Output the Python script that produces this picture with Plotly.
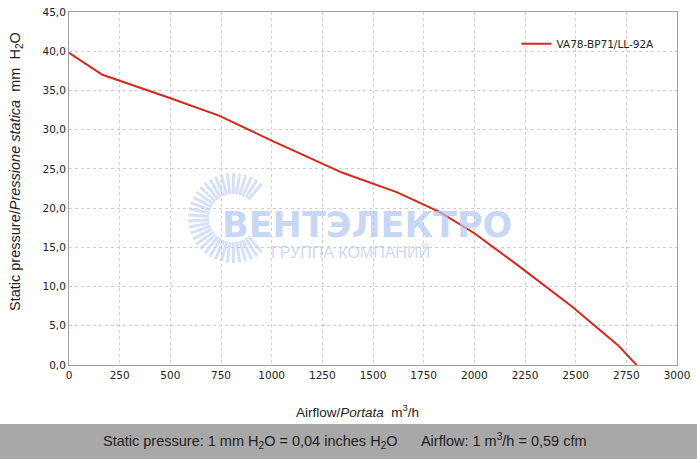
import numpy as np
import plotly.graph_objects as go

# Data
airflow = [0, 165, 480, 740, 1000, 1350, 1620, 1830, 2000, 2220, 2480, 2710, 2800]
pressure = [39.8, 37.0, 34.2, 31.8, 28.6, 24.5, 22.0, 19.5, 16.8, 12.6, 7.5, 2.5, 0.0]
series_name = "VA78-BP71/LL-92A"
x_ticks = [0, 250, 500, 750, 1000, 1250, 1500, 1750, 2000, 2250, 2500, 2750, 3000]
y_ticks = [0, 5, 10, 15, 20, 25, 30, 35, 40, 45]

W, H = 697, 459
L, R, T, B = 69, 20, 12, 94
pw, ph = W - L - R, H - T - B

def px2paper(px, py):
    return (px - L) / pw, (H - B - py) / ph

fig = go.Figure()
fig.add_trace(go.Scatter(x=airflow, y=pressure, mode="lines", name=series_name,
                         line=dict(color="#d8261c", width=2), showlegend=True))

shapes = []
# watermark sunburst rays
cx, cy = 233, 218
for ang in np.linspace(50, 310, 34):
    a = np.deg2rad(ang)
    x0, y0 = px2paper(cx + 24 * np.cos(a), cy - 24 * np.sin(a))
    x1, y1 = px2paper(cx + 45 * np.cos(a), cy - 45 * np.sin(a))
    shapes.append(dict(type="line", xref="paper", yref="paper", x0=x0, y0=y0, x1=x1, y1=y1,
                       line=dict(color="rgba(180,200,240,0.55)", width=3), layer="below"))
# bottom band
bx0, by0 = px2paper(0, 424)
bx1, by1 = px2paper(W, H)
shapes.append(dict(type="rect", xref="paper", yref="paper", x0=bx0, y0=by1, x1=bx1, y1=by0,
                   fillcolor="#a8a8a8", line=dict(width=0), layer="above"))

annotations = []
wx, wy = px2paper(367, 225)
annotations.append(dict(text="<b>ВЕНТЭЛЕКТРО</b>", xref="paper", yref="paper", x=wx, y=wy,
                        xanchor="center", yanchor="middle", showarrow=False,
                        font=dict(family="DejaVu Sans", size=35, color="rgba(175,198,242,0.7)")))
gx, gy = px2paper(350, 252)
annotations.append(dict(text="ГРУППА КОМПАНИЙ", xref="paper", yref="paper", x=gx, y=gy,
                        xanchor="center", yanchor="middle", showarrow=False,
                        font=dict(family="Liberation Sans", size=16, color="rgba(185,205,242,0.75)")))
fx, fy = px2paper(345, 441)
annotations.append(dict(text="Static pressure: 1 mm H<sub>2</sub>O = 0,04 inches H<sub>2</sub>O      Airflow: 1 m<sup>3</sup>/h = 0,59 cfm",
                        xref="paper", yref="paper", x=fx, y=fy, xanchor="center", yanchor="middle",
                        showarrow=False,
                        font=dict(family="Liberation Sans", size=14.5, color="#222")))
tx, ty = px2paper(357, 411)
annotations.append(dict(text="Airflow/<i>Portata</i>  m<sup>3</sup>/h", xref="paper", yref="paper",
                        x=tx, y=ty, xanchor="center", yanchor="middle", showarrow=False,
                        font=dict(family="Liberation Sans", size=13.5, color="#222")))
ax_, ay_ = px2paper(16, 172)
annotations.append(dict(text="Static pressure/<i>Pressione statica</i>  mm  H<sub>2</sub>O", xref="paper", yref="paper",
                        x=ax_, y=ay_, xanchor="center", yanchor="middle", textangle=-90, showarrow=False,
                        font=dict(family="Liberation Sans", size=14.5, color="#222")))

fig.update_layout(
    width=W, height=H,
    margin=dict(l=L, r=R, t=T, b=B, autoexpand=False),
    paper_bgcolor="white", plot_bgcolor="white",
    separators=", ",
    shapes=shapes, annotations=annotations,
    legend=dict(x=0.736, y=0.91, xanchor="left", yanchor="middle", bgcolor="rgba(0,0,0,0)",
                font=dict(family="DejaVu Sans", size=10.5, color="#222")),
    xaxis=dict(range=[0, 3000], tickvals=x_ticks, tickformat="d", automargin=False,
               showgrid=True, gridcolor="#cfcfcf", griddash="dot", gridwidth=1,
               showline=True, linecolor="#a0a0a0", linewidth=1, mirror=True,
               ticks="", zeroline=False,
               tickfont=dict(family="DejaVu Sans", size=10.5, color="#222")),
    yaxis=dict(range=[0, 45], tickvals=y_ticks, tickformat=".1f", automargin=False,
               showgrid=True, gridcolor="#cfcfcf", griddash="dot", gridwidth=1,
               showline=True, linecolor="#a0a0a0", linewidth=1, mirror=True,
               ticks="", zeroline=False,
               tickfont=dict(family="DejaVu Sans", size=10.5, color="#222")),
)

fig.write_html("out.html")
